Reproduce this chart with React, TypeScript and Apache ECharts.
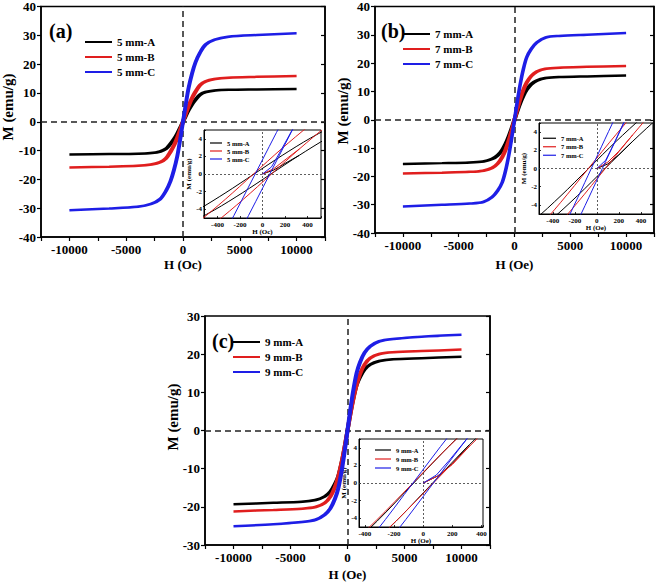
import React, { useEffect, useRef } from 'react';
import * as echarts from 'echarts';

const FONT = "'Liberation Serif', 'Times New Roman', serif";
const COLORS = ['#000000', '#e01e1e', '#1e1ee6'];

const NAMES_A = ['5 mm-A', '5 mm-B', '5 mm-C'];
const NAMES_B = ['7 mm-A', '7 mm-B', '7 mm-C'];
const NAMES_C = ['9 mm-A', '9 mm-B', '9 mm-C'];
const PANEL_LABELS = ['(a)', '(b)', '(c)'];
const X_NAMES = ['H (Oc)', 'H (Oe)', 'H (Oe)'];
const Y_NAME = 'M (emu/g)';

// ---- panel (a): 5 mm ----
const aA_down = [[10000, 11.35], [6500, 11.2], [3925, 11.08], [2725, 10.85], [1925, 10.3], [1425, 9.4], [1025, 7.63], [725, 6.08], [425, 4.07], [175, 2.11], [-75, 0], [-325, -2.11], [-575, -4.07], [-875, -6.08], [-1175, -7.63], [-1575, -9.4], [-2075, -10.3], [-2875, -10.85], [-4075, -11.08], [-6500, -11.2], [-10000, -11.35]];
const aA_up = [[-10000, -11.35], [-6500, -11.2], [-3925, -11.08], [-2725, -10.85], [-1925, -10.3], [-1425, -9.4], [-1025, -7.63], [-725, -6.08], [-425, -4.07], [-175, -2.11], [75, 0], [325, 2.11], [575, 4.07], [875, 6.08], [1175, 7.63], [1575, 9.4], [2075, 10.3], [2875, 10.85], [4075, 11.08], [6500, 11.2], [10000, 11.35]];
const aA_virgin = [[0, 0], [100, 0.45], [200, 1.2], [325, 2.11]];

const aB_down = [[10000, 15.9], [6500, 15.58], [3920, 15.3], [2720, 14.85], [1920, 14.0], [1420, 12.7], [1020, 10.41], [720, 8.26], [420, 5.53], [170, 2.87], [-80, 0], [-330, -2.87], [-580, -5.53], [-880, -8.26], [-1180, -10.41], [-1580, -12.7], [-2080, -14.0], [-2880, -14.85], [-4080, -15.3], [-6500, -15.58], [-10000, -15.9]];
const aB_up = [[-10000, -15.9], [-6500, -15.58], [-3920, -15.3], [-2720, -14.85], [-1920, -14.0], [-1420, -12.7], [-1020, -10.41], [-720, -8.26], [-420, -5.53], [-170, -2.87], [80, 0], [330, 2.87], [580, 5.53], [880, 8.26], [1180, 10.41], [1580, 12.7], [2080, 14.0], [2880, 14.85], [4080, 15.3], [6500, 15.58], [10000, 15.9]];
const aB_virgin = [[0, 0], [100, 0.6], [200, 1.6], [330, 2.87]];

const aC_down = [[10000, 30.7], [6500, 30.1], [3935, 29.5], [2735, 28.5], [1935, 26.8], [1435, 24.0], [1035, 20.6], [735, 16.8], [435, 11.87], [185, 6.19], [-65, 0], [-315, -6.19], [-565, -11.87], [-865, -16.8], [-1165, -20.6], [-1565, -24.0], [-2065, -26.8], [-2865, -28.5], [-4065, -29.5], [-6500, -30.1], [-10000, -30.7]];
const aC_up = [[-10000, -30.7], [-6500, -30.1], [-3935, -29.5], [-2735, -28.5], [-1935, -26.8], [-1435, -24.0], [-1035, -20.6], [-735, -16.8], [-435, -11.87], [-185, -6.19], [65, 0], [315, 6.19], [565, 11.87], [865, 16.8], [1165, 20.6], [1565, 24.0], [2065, 26.8], [2865, 28.5], [4065, 29.5], [6500, 30.1], [10000, 30.7]];
const aC_virgin = [[0, 0], [80, 0.8], [160, 2.6], [315, 6.19]];

// ---- panel (b): 7 mm ----
const bA_down = [[10000, 15.6], [6500, 15.32], [3925, 15.08], [2725, 14.71], [1925, 13.84], [1425, 12.53], [1025, 10.63], [725, 8.51], [425, 5.73], [175, 2.98], [-75, 0], [-325, -2.98], [-575, -5.73], [-875, -8.51], [-1175, -10.63], [-1575, -12.53], [-2075, -13.84], [-2875, -14.71], [-4075, -15.08], [-6500, -15.32], [-10000, -15.6]];
const bA_up = [[-10000, -15.6], [-6500, -15.32], [-3925, -15.08], [-2725, -14.71], [-1925, -13.84], [-1425, -12.53], [-1025, -10.63], [-725, -8.51], [-425, -5.73], [-175, -2.98], [75, 0], [325, 2.98], [575, 5.73], [875, 8.51], [1175, 10.63], [1575, 12.53], [2075, 13.84], [2875, 14.71], [4075, 15.08], [6500, 15.32], [10000, 15.6]];
const bA_virgin = [[0, 0], [100, 0.5], [200, 1.5], [325, 2.98]];

const bB_down = [[10000, 19.0], [6500, 18.69], [3923, 18.41], [2723, 18.0], [1923, 17.01], [1423, 15.45], [1023, 13.17], [723, 10.58], [423, 7.15], [173, 3.71], [-77, 0], [-327, -3.71], [-577, -7.15], [-877, -10.58], [-1177, -13.17], [-1577, -15.45], [-2077, -17.01], [-2877, -18.0], [-4077, -18.41], [-6500, -18.69], [-10000, -19.0]];
const bB_up = [[-10000, -19.0], [-6500, -18.69], [-3923, -18.41], [-2723, -18.0], [-1923, -17.01], [-1423, -15.45], [-1023, -13.17], [-723, -10.58], [-423, -7.15], [-173, -3.71], [77, 0], [327, 3.71], [577, 7.15], [877, 10.58], [1177, 13.17], [1577, 15.45], [2077, 17.01], [2877, 18.0], [4077, 18.41], [6500, 18.69], [10000, 19.0]];
const bB_virgin = [[0, 0], [100, 0.7], [200, 1.9], [327, 3.71]];

const bC_down = [[10000, 30.6], [6500, 30.04], [3950, 29.6], [2750, 29.07], [1950, 27.3], [1450, 25.0], [1050, 22.11], [750, 17.97], [450, 12.27], [200, 6.43], [-50, 0], [-300, -6.43], [-550, -12.27], [-850, -17.97], [-1150, -22.11], [-1550, -25.0], [-2050, -27.3], [-2850, -29.07], [-4050, -29.6], [-6500, -30.04], [-10000, -30.6]];
const bC_up = [[-10000, -30.6], [-6500, -30.04], [-3950, -29.6], [-2750, -29.07], [-1950, -27.3], [-1450, -25.0], [-1050, -22.11], [-750, -17.97], [-450, -12.27], [-200, -6.43], [50, 0], [300, 6.43], [550, 12.27], [850, 17.97], [1150, 22.11], [1550, 25.0], [2050, 27.3], [2850, 29.07], [4050, 29.6], [6500, 30.04], [10000, 30.6]];
const bC_virgin = [[0, 0], [80, 0.9], [160, 2.8], [300, 6.43]];

// ---- panel (c): 9 mm ----
const cA_down = [[10000, 19.3], [6500, 18.95], [3935, 18.68], [2735, 18.2], [1935, 17.3], [1435, 16.0], [1035, 14.0], [735, 11.87], [435, 8.19], [185, 4.32], [-65, 0], [-315, -4.32], [-565, -8.19], [-865, -11.87], [-1165, -14.0], [-1565, -16.0], [-2065, -17.3], [-2865, -18.2], [-4065, -18.68], [-6500, -18.95], [-10000, -19.3]];
const cA_up = [[-10000, -19.3], [-6500, -18.95], [-3935, -18.68], [-2735, -18.2], [-1935, -17.3], [-1435, -16.0], [-1035, -14.0], [-735, -11.87], [-435, -8.19], [-185, -4.32], [65, 0], [315, 4.32], [565, 8.19], [865, 11.87], [1165, 14.0], [1565, 16.0], [2065, 17.3], [2865, 18.2], [4065, 18.68], [6500, 18.95], [10000, 19.3]];
const cA_virgin = [[0, 0], [100, 0.8], [200, 2.2], [315, 4.32]];

const cB_down = [[10000, 21.2], [6500, 20.82], [3930, 20.49], [2730, 20.06], [1930, 19.0], [1430, 17.32], [1030, 14.81], [730, 11.94], [430, 8.09], [180, 4.22], [-70, 0], [-320, -4.22], [-570, -8.09], [-870, -11.94], [-1170, -14.81], [-1570, -17.32], [-2070, -19.0], [-2870, -20.06], [-4070, -20.49], [-6500, -20.82], [-10000, -21.2]];
const cB_up = [[-10000, -21.2], [-6500, -20.82], [-3930, -20.49], [-2730, -20.06], [-1930, -19.0], [-1430, -17.32], [-1030, -14.81], [-730, -11.94], [-430, -8.09], [-180, -4.22], [70, 0], [320, 4.22], [570, 8.09], [870, 11.94], [1170, 14.81], [1570, 17.32], [2070, 19.0], [2870, 20.06], [4070, 20.49], [6500, 20.82], [10000, 21.2]];
const cB_virgin = [[0, 0], [100, 0.8], [200, 2.1], [320, 4.22]];

const cC_down = [[10000, 25.1], [6500, 24.58], [3930, 24.0], [2730, 23.4], [1930, 22.1], [1430, 20.4], [1030, 17.9], [730, 15.05], [430, 10.34], [180, 5.44], [-70, 0], [-320, -5.44], [-570, -10.34], [-870, -15.05], [-1170, -17.9], [-1570, -20.4], [-2070, -22.1], [-2870, -23.4], [-4070, -24.0], [-6500, -24.58], [-10000, -25.1]];
const cC_up = [[-10000, -25.1], [-6500, -24.58], [-3930, -24.0], [-2730, -23.4], [-1930, -22.1], [-1430, -20.4], [-1030, -17.9], [-730, -15.05], [-430, -10.34], [-180, -5.44], [70, 0], [320, 5.44], [570, 10.34], [870, 15.05], [1170, 17.9], [1570, 20.4], [2070, 22.1], [2870, 23.4], [4070, 24.0], [6500, 24.58], [10000, 25.1]];
const cC_virgin = [[0, 0], [90, 0.9], [180, 2.6], [320, 5.44]];

const PANELS = [
  { names: NAMES_A, loops: [[aA_down, aA_up], [aB_down, aB_up], [aC_down, aC_up]], virgins: [aA_virgin, aB_virgin, aC_virgin], yMin: -40, yMax: 40 },
  { names: NAMES_B, loops: [[bA_down, bA_up], [bB_down, bB_up], [bC_down, bC_up]], virgins: [bA_virgin, bB_virgin, bC_virgin], yMin: -40, yMax: 40 },
  { names: NAMES_C, loops: [[cA_down, cA_up], [cB_down, cB_up], [cC_down, cC_up]], virgins: [cA_virgin, cB_virgin, cC_virgin], yMin: -30, yMax: 30 },
];

// ---- layout ----
const MAIN_GRIDS = [
  { left: 41, top: 6, width: 284, height: 231 },
  { left: 375, top: 6, width: 279, height: 227 },
  { left: 205, top: 316, width: 285, height: 229 },
];
const INSET_GRIDS = [
  { left: 204, top: 130, width: 117, height: 88 },
  { left: 539, top: 123, width: 114, height: 91 },
  { left: 359, top: 439, width: 124, height: 88 },
];
const INSET_X = [[-520, 520], [-525, 510], [-440, 410]];
const MAIN_LEGENDS = [
  { left: 85, top: 35 },
  { left: 403, top: 27 },
  { left: 233, top: 335 },
];
const INSET_LEGENDS = [
  { left: 210, top: 139, w: 12, h: 8 },
  { left: 543, top: 134, w: 13, h: 8.5 },
  { left: 375, top: 445.5, w: 16, h: 9 },
];
const LABEL_POS = [
  { x: 49, y: 21 },
  { x: 381, y: 21 },
  { x: 212, y: 331 },
];
const Y_TITLE_POS = [
  { x: 8, y: 107 },
  { x: 343, y: 111 },
  { x: 173, y: 417 },
];
const X_NAME_GAP = [21, 25, 23];

function buildOption() {
  const grid: any[] = [];
  const xAxis: any[] = [];
  const yAxis: any[] = [];
  const series: any[] = [];
  const legend: any[] = [];

  const mainLabel = { fontFamily: FONT, fontWeight: 'bold', fontSize: 13, color: '#000' };
  const insetLabel = { fontFamily: FONT, fontWeight: 'bold', fontSize: 7, color: '#000' };

  MAIN_GRIDS.forEach((g) => {
    grid.push({ ...g, containLabel: false, show: true, borderColor: '#000', borderWidth: 1.5, backgroundColor: 'transparent' });
  });
  INSET_GRIDS.forEach((g) => {
    grid.push({ ...g, containLabel: false, show: true, borderColor: '#000', borderWidth: 1, backgroundColor: '#fff' });
  });

  PANELS.forEach((p, pi) => {
    xAxis.push({
      type: 'value', gridIndex: pi, min: -12500, max: 12500, interval: 2500,
      axisLine: { show: true, onZero: false, lineStyle: { color: '#000', width: 1.5 } },
      axisTick: { show: true, inside: false, length: 4, lineStyle: { color: '#000', width: 1.2 } },
      axisLabel: { ...mainLabel, margin: 6, formatter: (v: number) => (v % 5000 === 0 && Math.abs(v) <= 10000 ? String(v) : '') },
      splitLine: { show: false },
      name: X_NAMES[pi], nameLocation: 'middle', nameGap: X_NAME_GAP[pi],
      nameTextStyle: { fontFamily: FONT, fontWeight: 'bold', fontSize: 13, color: '#000' },
    });
  });
  PANELS.forEach((p, pi) => {
    xAxis.push({
      type: 'value', gridIndex: 3 + pi, min: INSET_X[pi][0], max: INSET_X[pi][1],
      axisLine: { show: true, onZero: false, lineStyle: { color: '#000', width: 1 } },
      axisTick: { show: true, inside: true, length: 2, lineStyle: { color: '#000', width: 0.8 } },
      axisLabel: { ...insetLabel, margin: 3, formatter: (v: number) => (Math.round(v) % 200 === 0 ? String(v) : '') },
      splitLine: { show: false },
      name: X_NAMES[pi], nameLocation: 'middle', nameGap: 10,
      nameTextStyle: { ...insetLabel },
    });
  });
  PANELS.forEach((p, pi) => {
    yAxis.push({
      type: 'value', gridIndex: pi, min: p.yMin, max: p.yMax, interval: 10,
      axisLine: { show: true, onZero: false, lineStyle: { color: '#000', width: 1.5 } },
      axisTick: { show: true, inside: false, length: 4, lineStyle: { color: '#000', width: 1.2 } },
      axisLabel: { ...mainLabel, margin: 5 },
      splitLine: { show: false },
    });
  });
  PANELS.forEach((p, pi) => {
    yAxis.push({
      type: 'value', gridIndex: pi, position: 'right', min: p.yMin, max: p.yMax, interval: 10,
      axisLine: { show: true, onZero: false, lineStyle: { color: '#000', width: 1.5 } },
      axisTick: { show: true, inside: true, length: 4, lineStyle: { color: '#000', width: 1.2 } },
      axisLabel: { show: false },
      splitLine: { show: false },
    });
  });
  PANELS.forEach((p, pi) => {
    yAxis.push({
      type: 'value', gridIndex: 3 + pi, min: -5, max: 5,
      axisLine: { show: true, onZero: false, lineStyle: { color: '#000', width: 1 } },
      axisTick: { show: true, inside: true, length: 2, lineStyle: { color: '#000', width: 0.8 } },
      axisLabel: { ...insetLabel, margin: 2, formatter: (v: number) => (Math.round(v) % 2 === 0 ? String(v) : '') },
      splitLine: { show: false },
      name: Y_NAME, nameLocation: 'middle', nameGap: 9,
      nameTextStyle: { ...insetLabel },
    });
  });

  const mainMark = {
    silent: true, symbol: ['none', 'none'], label: { show: false },
    lineStyle: { type: [6, 4], color: '#222', width: 1.5 },
    emphasis: { disabled: true },
    data: [{ xAxis: 0 }, { yAxis: 0 }],
  };
  const insetMark = {
    silent: true, symbol: ['none', 'none'], label: { show: false },
    lineStyle: { type: [2, 2], color: '#333', width: 0.8 },
    emphasis: { disabled: true },
    data: [{ xAxis: 0 }, { yAxis: 0 }],
  };

  PANELS.forEach((p, pi) => {
    p.names.forEach((name, si) => {
      const [down, up] = p.loops[si];
      const loop = [...down, ...up];
      const color = COLORS[si];
      series.push({
        type: 'line', name, xAxisIndex: pi, yAxisIndex: pi, data: loop,
        symbol: 'none', showSymbol: false, clip: true, z: 3 + si, smooth: 0.3,
        lineStyle: { width: 2.5, color }, itemStyle: { color },
        emphasis: { disabled: true },
        markLine: si === 0 ? mainMark : undefined,
      });
      series.push({
        type: 'line', name, xAxisIndex: 3 + pi, yAxisIndex: 6 + pi, data: loop,
        symbol: 'none', showSymbol: false, clip: true, z: 6 + si, smooth: 0.3,
        lineStyle: { width: 1, color }, itemStyle: { color },
        emphasis: { disabled: true },
        markLine: si === 0 ? insetMark : undefined,
      });
      series.push({
        type: 'line', name, xAxisIndex: 3 + pi, yAxisIndex: 6 + pi, data: p.virgins[si],
        symbol: 'none', showSymbol: false, clip: true, z: 6 + si,
        lineStyle: { width: 1, color }, itemStyle: { color },
        emphasis: { disabled: true },
      });
    });

    legend.push({
      data: p.names, orient: 'vertical', left: MAIN_LEGENDS[pi].left, top: MAIN_LEGENDS[pi].top,
      icon: 'rect', itemWidth: 27, itemHeight: 2, itemGap: 1, padding: 0, selectedMode: false,
      textStyle: { fontFamily: FONT, fontWeight: 'bold', fontSize: 11, lineHeight: 14, color: '#000' },
    });
    const il = INSET_LEGENDS[pi];
    legend.push({
      data: p.names, orient: 'vertical', left: il.left, top: il.top,
      icon: 'rect', itemWidth: il.w, itemHeight: 1.2, itemGap: 0, padding: 0, selectedMode: false,
      textStyle: { fontFamily: FONT, fontWeight: 'bold', fontSize: 6.5, lineHeight: il.h, color: '#000' },
    });
  });

  const graphic: any[] = PANEL_LABELS.map((t, i) => ({
    type: 'text', left: LABEL_POS[i].x, top: LABEL_POS[i].y, z: 20,
    style: { text: t, font: `bold 20px ${FONT}`, fill: '#000' },
  }));
  Y_TITLE_POS.forEach((pos) => {
    graphic.push({
      type: 'text', x: pos.x, y: pos.y, rotation: Math.PI / 2, z: 20,
      style: { text: Y_NAME, font: `bold 15px ${FONT}`, fill: '#000', align: 'center', verticalAlign: 'middle' },
    });
  });

  return {
    animation: false,
    backgroundColor: '#fff',
    grid, xAxis, yAxis, series, legend, graphic,
  };
}

export default function App() {
  const ref = useRef<HTMLDivElement>(null);
  useEffect(() => {
    document.body.style.margin = '0';
    const chart = echarts.init(ref.current as HTMLDivElement, null, { renderer: 'svg' });
    chart.setOption(buildOption() as any);
    return () => chart.dispose();
  }, []);
  return <div ref={ref} style={{ width: 661, height: 582 }} />;
}
